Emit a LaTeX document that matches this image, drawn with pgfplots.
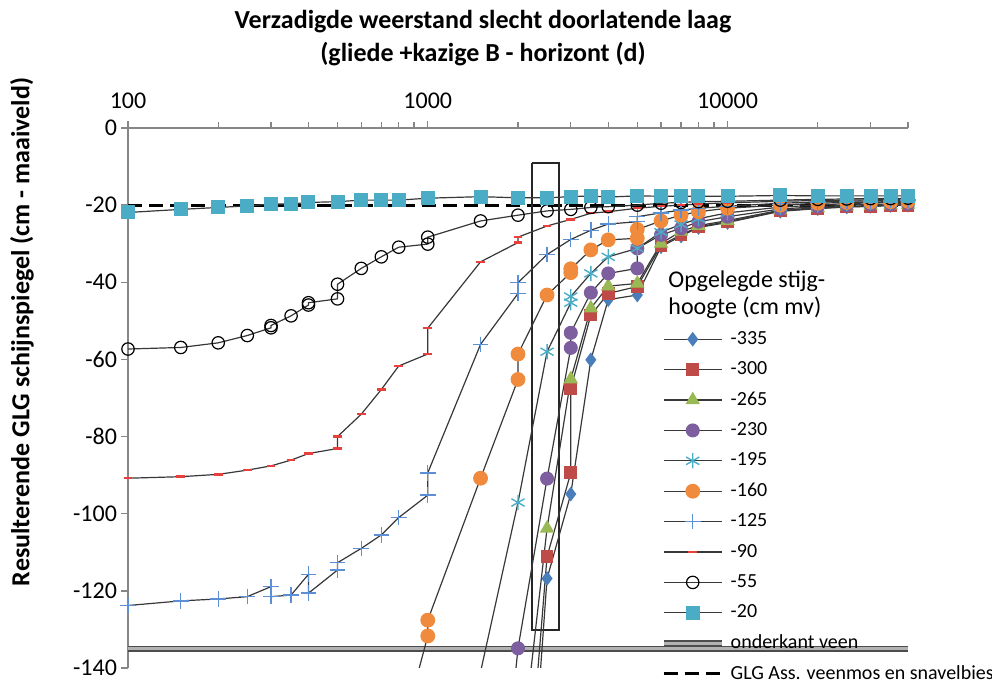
\documentclass[border=0pt]{standalone}
\usepackage{fontspec}
\setmainfont{Carlito}
\usepackage{pgfplots}
\pgfplotsset{compat=1.18}
\definecolor{cA}{HTML}{4A7EBB}
\definecolor{cB}{HTML}{BE4B48}
\definecolor{cC}{HTML}{98B954}
\definecolor{cD}{HTML}{7D5FA0}
\definecolor{cE}{HTML}{4BACC6}
\definecolor{cF}{HTML}{F08A3C}
\definecolor{cG}{HTML}{5B8FD6}
\definecolor{cH}{HTML}{E8403A}
\definecolor{cJ}{HTML}{4BACC6}
\definecolor{axisgray}{HTML}{868686}
\pgfplotsset{ser/.style={draw=black!78, line width=0.6pt}}
\begin{document}
\begin{tikzpicture}
\path[use as bounding box] (0,0) rectangle (496pt,341pt);
\begin{axis}[
  name=ax, at={(64pt,7pt)}, anchor=south west, scale only axis,
  width=390pt, height=270pt,
  xmode=log, xmin=100, xmax=40000, ymin=-140, ymax=0,
  axis x line=top, axis y line=left,
  axis line style={-, draw=axisgray, line width=0.8pt},
  tick align=outside, tick style={draw=axisgray, line width=0.7pt},
  major tick length=3.5pt, minor tick length=3pt,
  xtick={100,1000,10000}, xticklabels={100,1000,10000},
  minor xtick={200,300,400,500,600,700,800,900,2000,3000,4000,5000,6000,7000,8000,9000,20000,30000,40000},
  ytick={0,-20,-40,-60,-80,-100,-120,-140},
  yticklabels={0,-20,-40,-60,-80,-100,-120,-140},
  ticklabel style={font=\fontsize{12}{12}\selectfont, text=black},
  xticklabel style={yshift=2.5pt},
  yticklabel style={xshift=1.5pt},
  legend style={at={(0.683,0.637)}, anchor=north west, draw=none, fill=none,
    inner sep=0pt, outer sep=0pt, row sep=0pt,
    font=\fontsize{10}{10}\selectfont,
    nodes={minimum height=15.2pt, inner ysep=0pt, inner xsep=3pt}},
  legend cell align=left,
  legend image code/.code={\draw[mark repeat=2,mark phase=2] plot coordinates {(0pt,0pt)(14.5pt,0pt)(29pt,0pt)};},
]
% onderkant veen
\addplot[forget plot, draw=black!70, double=black!30, double distance=1.3pt, line width=0.85pt] coordinates {(100,-135) (40000,-135)};
% GLG dashed
\addplot[forget plot, draw=black, line width=1.5pt, dash pattern=on 7pt off 3.5pt] coordinates {(100,-20) (40000,-20)};
% rectangle
\addplot[forget plot, draw=black!85, line width=0.8pt] coordinates {(2230,-9) (2740,-9) (2740,-130.2) (2230,-130.2) (2230,-9)};

% -335
\addplot[ser, mark=diamond*, mark size=3.2pt, mark options={solid, fill=cA, draw=cA}] table {
2000 -222
2500 -116.8
3000 -94.9
3500 -60.1
4000 -44.5
5000 -43.3
6000 -30.8
7000 -28
8000 -25.8
10000 -24.5
15000 -21.6
20000 -20.9
25000 -20.5
30000 -20.3
35000 -20.1
40000 -20
};
\addlegendentry{-335}
% -300
\addplot[ser, mark=square*, mark size=2.9pt, mark options={solid, fill=cB, draw=cB}] table {
2000 -204
2500 -111.1
3000 -89.4
3000 -67.5
3500 -48.5
4000 -42.9
5000 -41.1
6000 -30.4
7000 -27.7
8000 -25.6
10000 -24.3
15000 -21.5
20000 -20.8
25000 -20.4
30000 -20.3
35000 -20.1
40000 -20
};
\addlegendentry{-300}
% -265
\addplot[ser, mark=triangle*, mark size=3.6pt, mark options={solid, fill=cC, draw=cC}] table {
2000 -170
2500 -103.8
3000 -65.1
3500 -46.7
4000 -41
5000 -40.3
6000 -29.9
7000 -26.8
8000 -25.3
10000 -24
15000 -21.3
20000 -20.7
25000 -20.3
30000 -20.1
35000 -20
40000 -19.9
};
\addlegendentry{-265}
% -230
\addplot[ser, mark=*, mark size=3.2pt, mark options={solid, fill=cD, draw=cD}] table {
1500 -230
2000 -134.9
2500 -90.9
3000 -57
3000 -53.1
3500 -42.7
4000 -37.7
5000 -36.4
5000 -31.2
6000 -27.7
7000 -26
8000 -24.3
10000 -23
15000 -21
20000 -20.4
25000 -20
30000 -19.8
35000 -19.7
40000 -19.6
};
\addlegendentry{-230}
% -195
\addplot[ser, mark=asterisk, mark size=3.8pt, mark options={solid, draw=cE, line width=0.7pt}] table {
1000 -195
1500 -141
2000 -97.1
2500 -58
3000 -45.3
3000 -43.7
3500 -37.7
4000 -33.4
5000 -31.2
6000 -27
7000 -25
8000 -23.5
10000 -22
15000 -20.5
20000 -20
25000 -19.6
30000 -19.4
35000 -19.3
40000 -19.2
};
\addlegendentry{-195}
% -160
\addplot[ser, mark=*, mark size=3.4pt, mark options={solid, fill=cF, draw=cF}] table {
800 -160
1000 -131.7
1000 -127.6
1500 -90.8
2000 -65.2
2000 -58.6
2500 -43.3
3000 -37.5
3000 -36.5
3500 -31.6
4000 -29
5000 -28.6
5000 -26.3
6000 -24.1
7000 -22.6
8000 -21.7
10000 -20.8
15000 -20
20000 -19.5
25000 -19.3
30000 -19.2
35000 -19.1
40000 -19
};
\addlegendentry{-160}
% -125
\addplot[ser, mark=+, mark size=3.9pt, mark options={solid, draw=cG, line width=0.7pt}] table {
100 -123.8
150 -122.6
200 -122.1
250 -121.5
300 -118.9
300 -121.5
350 -121.1
400 -115.7
400 -120.6
500 -114.6
500 -112.7
600 -109
700 -105.5
800 -101
1000 -95.2
1000 -89.4
1500 -56.1
2000 -42.9
2000 -40.1
2500 -32.8
3000 -28.9
3500 -26.5
4000 -24.9
5000 -24.3
5000 -23
6000 -22
7000 -21.3
8000 -20.8
10000 -20.3
15000 -19.5
20000 -19.2
25000 -19
30000 -18.9
35000 -18.8
40000 -18.7
};
\addlegendentry{-125}
% -90
\addplot[ser, mark=-, mark size=2.2pt, mark options={solid, draw=cH, line width=1.2pt}] table {
100 -90.8
150 -90.4
200 -89.8
250 -88.7
300 -87.6
350 -86.1
400 -84.4
500 -83.1
500 -80
600 -74.2
700 -67.8
800 -61.7
1000 -58.6
1000 -51.9
1500 -34.7
2000 -29.7
2000 -28.3
2500 -25.4
3000 -23.7
3500 -22.1
4000 -21.7
5000 -20.8
6000 -20.3
7000 -20
8000 -19.7
10000 -19.4
15000 -19
20000 -18.8
25000 -18.7
30000 -18.6
35000 -18.5
40000 -18.5
};
\addlegendentry{-90}
% -55
\addplot[ser, mark=o, mark size=3.1pt, mark options={solid, draw=black, line width=0.6pt}] table {
100 -57.3
150 -56.9
200 -55.7
250 -53.8
300 -51.8
300 -51.2
350 -48.7
400 -45.9
400 -45.3
500 -44.3
500 -40.5
600 -36.4
700 -33.4
800 -30.9
1000 -30.1
1000 -28.3
1500 -24.1
2000 -22.6
2500 -21.5
3000 -21.1
3500 -20.6
4000 -20.4
5000 -20
6000 -19.5
7000 -19.3
8000 -19.1
10000 -19
15000 -18.7
20000 -18.5
25000 -18.4
30000 -18.3
35000 -18.3
40000 -18.2
};
\addlegendentry{-55}
% -20
\addplot[ser, mark=square*, mark size=3.2pt, mark options={solid, fill=cJ, draw=cJ}] table {
100 -21.9
150 -21.1
200 -20.6
250 -20.2
300 -19.7
350 -19.7
400 -19.3
500 -19.1
600 -18.7
700 -18.7
800 -18.7
1000 -18.2
1500 -17.8
2000 -18.1
2500 -18.1
3000 -17.8
3500 -17.6
4000 -17.9
5000 -17.6
6000 -17.7
7000 -17.7
8000 -17.7
10000 -17.7
15000 -17.5
20000 -17.6
25000 -17.6
30000 -17.6
35000 -17.6
40000 -17.6
};
\addlegendentry{-20}
\addlegendimage{draw=black!70, double=black!30, double distance=1.3pt, line width=0.85pt}
\addlegendentry{onderkant veen}
\addlegendimage{draw=black, line width=1.5pt, dash pattern=on 7pt off 3.5pt}
\addlegendentry{GLG Ass. veenmos en snavelbies}
\end{axis}
\node[align=center, font=\bfseries\fontsize{13}{16.5}\selectfont] at (241.5pt,321.75pt) {Verzadigde weerstand slecht doorlatende laag\\(gliede +kazige B - horizont (d)};
\node[rotate=90, font=\bfseries\fontsize{13}{13}\selectfont] at (11pt,175pt) {Resulterende GLG schijnspiegel (cm - maaiveld)};
\node[anchor=west, align=left, font=\fontsize{12}{13.5}\selectfont, inner sep=0pt] at (334pt,193.5pt) {Opgelegde stijg-\\hoogte (cm mv)};
\end{tikzpicture}
\end{document}
